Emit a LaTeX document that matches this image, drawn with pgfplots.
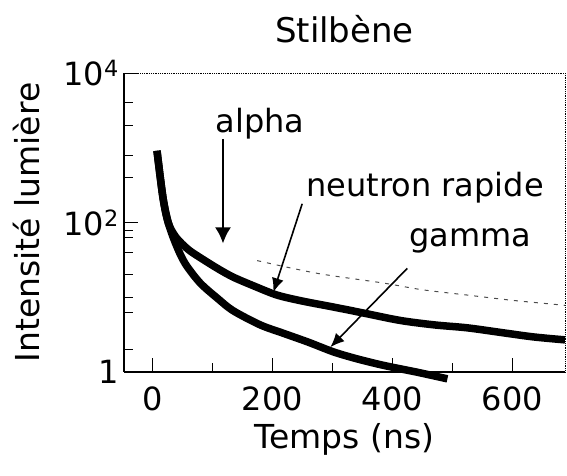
\documentclass[border=0pt]{standalone}
\usepackage{pgfplots}
\pgfplotsset{compat=1.18}
\usepackage{fontspec}
\setmainfont{DejaVu Sans}
\usetikzlibrary{arrows.meta}
\begin{document}
\begin{tikzpicture}
\useasboundingbox (-124pt,-104pt) rectangle (443pt,372pt);
\begin{axis}[
  at={(0,0)}, anchor=south west,
  scale only axis, width=441pt, height=299pt,
  xmin=-47, xmax=688,
  ymode=log, ymin=1, ymax=10000,
  axis x line*=bottom, axis y line*=left,
  axis line style={-, black, line width=1.2pt},
  clip=false,
  xtick={0,200,400,600},
  minor xtick={100,300,500},
  ytick={1,100,10000},
  yticklabels={1,10\textsuperscript{2},10\textsuperscript{4}},
  minor ytick={2,6.3,10,20,40,63,79,398,794,1995,3981},
  major tick length=14pt, minor tick length=9pt,
  tick style={black, line width=1pt},
  /pgf/number format/assume math mode=true,
  tick label style={font=\fontsize{32}{38}\selectfont},
  xticklabel style={anchor=center, yshift=-27pt},
  yticklabel style={inner sep=0pt, xshift=-5pt},
  xlabel={Temps (ns)},
  ylabel={Intensité lumière},
  label style={font=\fontsize{33}{40}\selectfont},
  xlabel style={at={(axis description cs:0.5,-0.227)}, anchor=center},
  ylabel style={at={(axis description cs:-0.22,0.5)}, anchor=center, rotate=0},
  title={Stilbène},
  title style={font=\fontsize{34}{40}\selectfont, at={(axis description cs:0.5,1)}, anchor=center, yshift=38pt},
]
% faint top and right frame
\draw[black, densely dotted, line width=0.8pt] (rel axis cs:0,1) -- (rel axis cs:1,1) -- (rel axis cs:1,0);
% dashed curve
\addplot[black!70, dash pattern=on 4pt off 6pt, line width=1pt, smooth] coordinates {
 (175,30.9) (275,20.9) (385,15.5) (450,12.6) (525,10.7) (600,9.1) (688,7.8)
};
% neutron rapide (upper thick)
\addplot[black, line width=7.5pt, smooth] coordinates {
 (8,912) (18,214) (27,98) (40,63) (60,43.6) (80,33.9) (110,24) (135,18.6)
 (170,14.1) (208,10.7) (250,8.9) (302,7.4) (350,6.2) (413,4.9) (470,4.27)
 (525,3.9) (580,3.39) (635,2.95) (688,2.69)
};
% gamma (lower thick)
\addplot[black, line width=7.5pt, smooth] coordinates {
 (8,912) (18,214) (27,98) (40,50) (55,28.2) (80,15.5) (110,9.5) (135,6.6)
 (180,4.27) (218,3.31) (260,2.51) (302,1.86) (340,1.51) (385,1.23) (440,1.0) (492,0.81)
};
% annotations
\node[font=\fontsize{32}{38}\selectfont] at (axis cs:180,2090) {alpha};
\node[font=\fontsize{32}{38}\selectfont] at (axis cs:455,295) {neutron rapide};
\node[font=\fontsize{32}{38}\selectfont] at (axis cs:530,57.5) {gamma};
\draw[line width=2pt, -{Latex[length=16pt,width=16pt]}] (axis cs:118,1318) -- (axis cs:118,52.5);
\draw[line width=1.6pt, -{Latex[length=14pt,width=12pt]}] (axis cs:250,178) -- (axis cs:202,11.7);
\draw[line width=1.6pt, -{Latex[length=14pt,width=12pt]}] (axis cs:425,24.3) -- (axis cs:297,2.15);
\end{axis}
\end{tikzpicture}
\end{document}
